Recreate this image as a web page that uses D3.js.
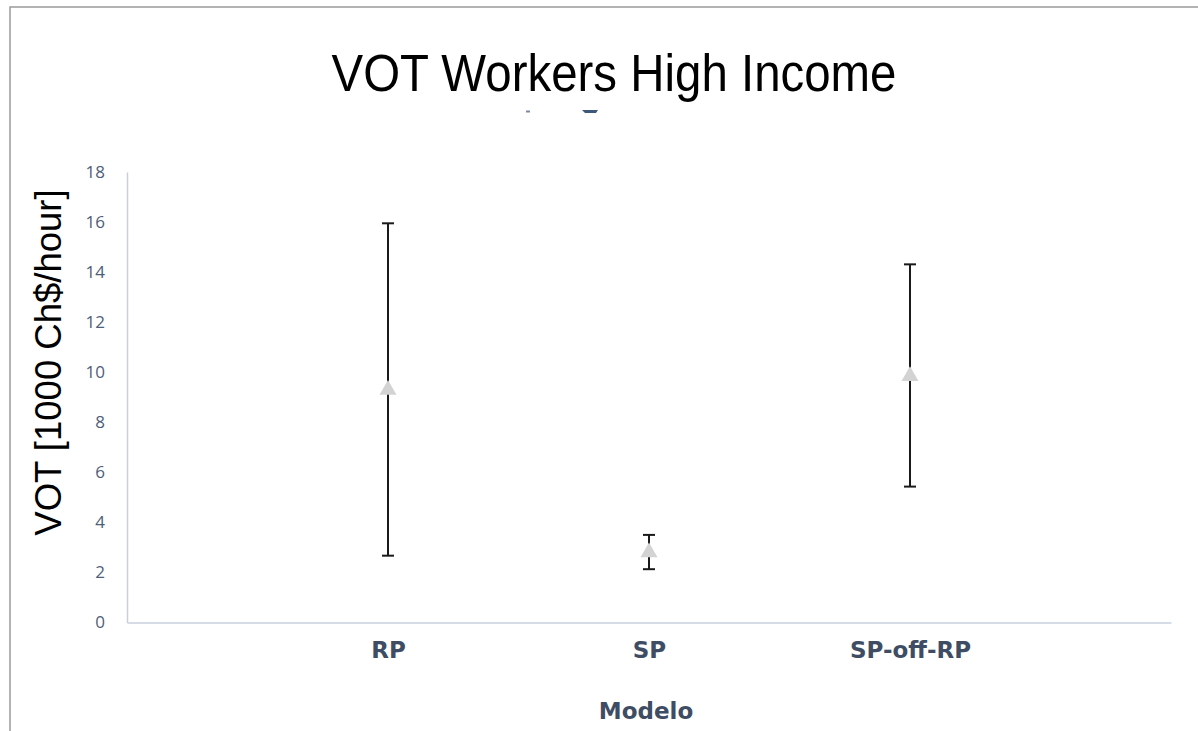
<!DOCTYPE html>
<html>
<head>
<meta charset="utf-8">
<script src="https://cdn.jsdelivr.net/npm/d3@7"></script>
<style>
  html, body { margin: 0; padding: 0; background: #ffffff; }
  svg { display: block; }
</style>
</head>
<body>
<svg id="chart" width="1198" height="731"></svg>
<script>
// Value of time estimates per model, with confidence interval bounds
const categories = ["RP", "SP", "SP-off-RP"];
const xPositions = [1, 2, 3];
const estimate = [9.3, 2.8, 9.85];
const lower = [2.67, 2.13, 5.43];
const upper = [15.95, 3.5, 14.31];
const yTicks = [0, 2, 4, 6, 8, 10, 12, 14, 16, 18];

const svg = d3.select("#chart");

// Frame around the chart area
svg.append("rect")
  .attr("x", 10).attr("y", 7)
  .attr("width", 1200).attr("height", 740)
  .attr("fill", "none")
  .attr("stroke", "#9a9a9a")
  .attr("stroke-width", 1.5);

const x = d3.scaleLinear().domain([0, 4]).range([127, 1171]);
const y = d3.scaleLinear().domain([0, 18]).range([622.5, 172]);

// Title
svg.append("text")
  .attr("x", 614).attr("y", 91)
  .attr("text-anchor", "middle")
  .attr("font-family", "Liberation Sans, Arial, sans-serif")
  .attr("font-size", 51)
  .attr("textLength", 565)
  .attr("lengthAdjust", "spacingAndGlyphs")
  .attr("fill", "#000")
  .text("VOT Workers High Income");

// small leftover marks below the title
svg.append("rect").attr("x", 526).attr("y", 110.5).attr("width", 4).attr("height", 2)
  .attr("fill", "#7d8aa0");
svg.append("path").attr("d", "M582,110 L598,110 L596,113 L585,113 Z")
  .attr("fill", "#3d5878");

// Y axis
const yAxis = d3.axisLeft(y)
  .tickValues(yTicks)
  .tickSize(0)
  .tickPadding(22)
  .tickFormat(d3.format("d"));

const gy = svg.append("g")
  .attr("transform", `translate(${x(0)},0)`)
  .call(yAxis);
gy.select(".domain").attr("stroke", "#c8d0dc").attr("stroke-width", 1.5);
gy.selectAll("text")
  .attr("font-family", "Open Sans, Liberation Sans, sans-serif")
  .attr("font-size", 17)
  .attr("fill", "#4d5e79");

// X axis
const xAxis = d3.axisBottom(x)
  .tickValues(xPositions)
  .tickSize(0)
  .tickPadding(19)
  .tickFormat((d, i) => categories[i]);

const gx = svg.append("g")
  .attr("transform", `translate(0,${y(0)})`)
  .call(xAxis);
gx.select(".domain").attr("stroke", "#c8d0dc").attr("stroke-width", 1.5);
gx.selectAll("text")
  .attr("font-family", "DejaVu Sans, sans-serif")
  .attr("font-weight", "bold")
  .attr("font-size", 23)
  .attr("fill", "#3e4d63");

// Axis titles
svg.append("text")
  .attr("transform", "translate(61,362.5) rotate(-90)")
  .attr("text-anchor", "middle")
  .attr("font-family", "Liberation Sans, Arial, sans-serif")
  .attr("font-size", 36.5)
  .attr("fill", "#000")
  .text("VOT [1000 Ch$/hour]");

svg.append("text")
  .attr("x", 646).attr("y", 719)
  .attr("text-anchor", "middle")
  .attr("font-family", "DejaVu Sans, sans-serif")
  .attr("font-weight", "bold")
  .attr("font-size", 23)
  .attr("fill", "#3e4d63")
  .text("Modelo");

// Error bars
const rows = categories.map((c, i) => ({
  cat: c, x: xPositions[i], est: estimate[i], lo: lower[i], hi: upper[i]
}));

const bars = svg.append("g");
bars.selectAll("line.whisker")
  .data(rows).join("line")
  .attr("class", "whisker")
  .attr("x1", d => x(d.x)).attr("x2", d => x(d.x))
  .attr("y1", d => y(d.lo)).attr("y2", d => y(d.hi))
  .attr("stroke", "#1a1a1a").attr("stroke-width", 2);

bars.selectAll("line.capHi")
  .data(rows).join("line")
  .attr("class", "capHi")
  .attr("x1", d => x(d.x) - 6).attr("x2", d => x(d.x) + 6)
  .attr("y1", d => y(d.hi)).attr("y2", d => y(d.hi))
  .attr("stroke", "#1a1a1a").attr("stroke-width", 2);

bars.selectAll("line.capLo")
  .data(rows).join("line")
  .attr("class", "capLo")
  .attr("x1", d => x(d.x) - 6).attr("x2", d => x(d.x) + 6)
  .attr("y1", d => y(d.lo)).attr("y2", d => y(d.lo))
  .attr("stroke", "#1a1a1a").attr("stroke-width", 2);

// Point estimates
const tri = d3.symbol().type(d3.symbolTriangle).size(125);
svg.append("g").selectAll("path")
  .data(rows).join("path")
  .attr("transform", d => `translate(${x(d.x)},${y(d.est)})`)
  .attr("d", tri)
  .attr("fill", "#d3d3d3");
</script>
</body>
</html>
